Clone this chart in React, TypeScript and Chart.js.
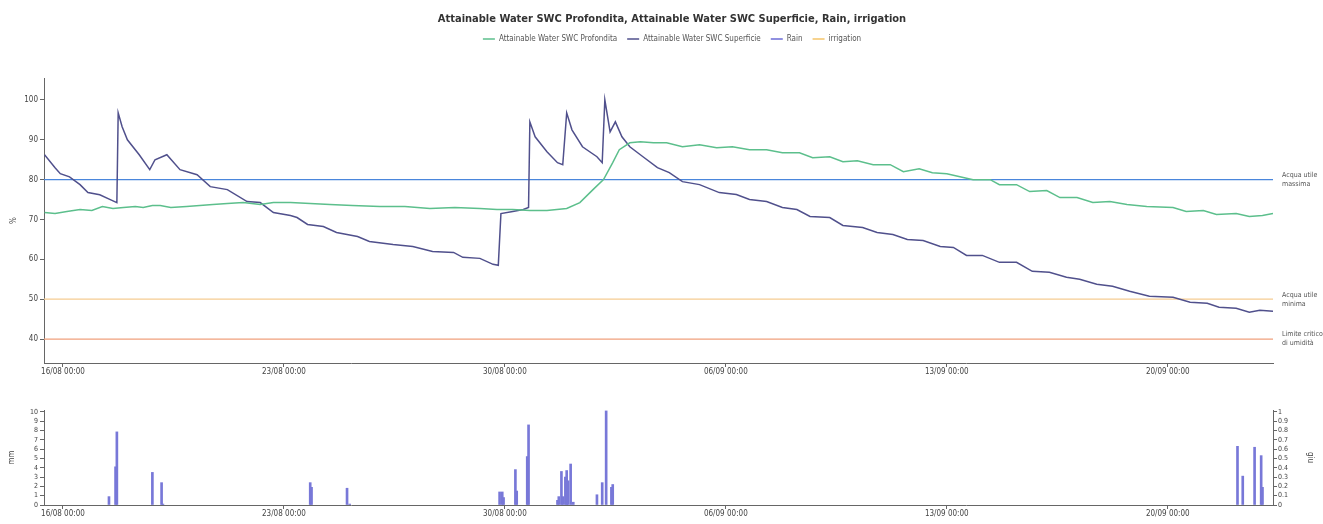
import React, { useEffect, useRef } from "react";
import { Chart, registerables } from "chart.js";
Chart.register(...registerables);

const FONT = '"Liberation Sans Narrow", "DejaVu Sans Condensed", "Liberation Sans", sans-serif';

const TITLE = "Attainable Water SWC Profondita, Attainable Water SWC Superficie, Rain, irrigation";
const seriesNames = ["Attainable Water SWC Profondita", "Attainable Water SWC Superficie", "Rain", "irrigation"];
const seriesColors = ["#5cbf8c", "#50508c", "#6b6bd6", "#f5c46a"];

// x values are hours since 16/08 00:00
const xMin = -14.4;
const xMax = 920;
const xTickValues = [0, 168, 336, 504, 672, 840];
const xTickLabels = ["16/08 00:00", "23/08 00:00", "30/08 00:00", "06/09 00:00", "13/09 00:00", "20/09 00:00"];

const yTickValues = [40, 50, 60, 70, 80, 90, 100];
const mmTickValues = [0, 1, 2, 3, 4, 5, 6, 7, 8, 9, 10];
const irrTickValues = [0, 0.1, 0.2, 0.3, 0.4, 0.5, 0.6, 0.7, 0.8, 0.9, 1];
const irrTickLabels = ["0", "0.1", "0.2", "0.3", "0.4", "0.5", "0.6", "0.7", "0.8", "0.9", "1"];

const thresholdValues = [80, 50, 40];
const thresholdColors = ["#4a86dc", "#f6cc92", "#f0a07c"];
const thresholdLabels = [["Acqua utile", "massima"], ["Acqua utile", "minima"], ["Limite critico", "di umidità"]];

const profSeries: [number, number][] = [
  [-14, 71.75], [-6, 71.5], [3, 72], [13, 72.5], [22, 72.25], [30, 73.25], [38, 72.75], [46, 73], [55, 73.25],
  [61, 73], [68, 73.5], [74, 73.5], [82, 73], [94, 73.25], [104, 73.5], [114, 73.75], [125, 74], [137, 74.25],
  [150, 73.75], [160, 74.25], [173, 74.25], [188, 74], [203, 73.75], [220, 73.5], [241, 73.25], [260, 73.25],
  [279, 72.75], [298, 73], [317, 72.75], [330, 72.5], [342, 72.5], [355, 72.25], [368, 72.25], [383, 72.75],
  [393, 74.25], [403, 77.5], [411, 80], [418, 84.25], [423, 87.5], [431, 89.25], [439, 89.5], [449, 89.25],
  [459, 89.25], [471, 88.25], [484, 88.75], [497, 88], [509, 88.25], [522, 87.5], [535, 87.5], [547, 86.75],
  [560, 86.75], [570, 85.5], [583, 85.75], [593, 84.5], [604, 84.75], [616, 83.75], [629, 83.75], [639, 82],
  [651, 82.75], [661, 81.75], [672, 81.5], [682, 80.75], [692, 80], [705, 80], [712, 78.75], [725, 78.75],
  [735, 77], [748, 77.25], [758, 75.5], [771, 75.5], [783, 74.25], [796, 74.5], [809, 73.75], [824, 73.25],
  [844, 73], [854, 72], [867, 72.25], [877, 71.25], [892, 71.5], [902, 70.75], [912, 71], [920, 71.5],
];

const supSeries: [number, number][] = [
  [-14, 86.25], [-6, 83], [-2, 81.5], [5, 80.7], [13, 78.75], [19, 76.75], [28, 76.2], [36, 75], [41, 74.25],
  [42, 96.75], [45, 93.25], [49, 90], [58, 86.25], [66, 82.5], [70, 85], [79, 86.25], [89, 82.5], [102, 81.25],
  [112, 78.25], [125, 77.5], [140, 74.5], [150, 74.25], [160, 71.75], [173, 71], [178, 70.5], [186, 68.75],
  [198, 68.25], [208, 66.75], [224, 65.75], [233, 64.5], [251, 63.75], [266, 63.25], [281, 62], [297, 61.75],
  [304, 60.5], [317, 60.25], [327, 58.75], [331, 58.5], [333, 71.5], [342, 72], [350, 72.5], [354, 73],
  [355, 94.5], [359, 90.75], [368, 87], [376, 84.25], [380, 83.75], [383, 96.75], [387, 92.5], [395, 88.25],
  [406, 85.75], [410, 84.25], [412, 100], [416, 92], [420, 94.5], [425, 90.75], [431, 88.25], [441, 85.75],
  [452, 83], [461, 81.75], [471, 79.5], [484, 78.75], [499, 76.75], [512, 76.25], [522, 75], [535, 74.5],
  [547, 73], [558, 72.5], [568, 70.75], [583, 70.5], [593, 68.5], [608, 68], [619, 66.75], [631, 66.25],
  [642, 65], [654, 64.75], [667, 63.25], [677, 63], [687, 61], [699, 61], [712, 59.25], [725, 59.25],
  [737, 57], [750, 56.75], [763, 55.5], [773, 55], [786, 53.75], [798, 53.25], [811, 52], [826, 50.75],
  [844, 50.5], [857, 49.25], [870, 49], [879, 48], [892, 47.75], [902, 46.75], [910, 47.25], [920, 47],
];

const rainSeries: [number, number][] = [
  [35, 0.9], [40, 4.1], [41, 7.85], [68, 3.5], [75, 2.4], [76, 0.1], [188, 2.4], [189, 1.9], [216, 1.8], [218, 0.1],
  [332, 1.4], [334, 1.4], [335, 0.8], [344, 3.8], [345, 1.5], [353, 5.2], [354, 8.6], [376, 0.5], [377, 0.9],
  [379, 3.6], [380, 0.9], [382, 3.0], [383, 3.7], [384, 2.6], [386, 4.4], [388, 0.3], [406, 1.1], [410, 2.4],
  [413, 10.1], [417, 1.9], [418, 2.2], [893, 6.3], [897, 3.1], [906, 6.2], [911, 5.3], [912, 1.9],
];
const irrigationSeries: [number, number][] = [];

const toPts = (s: [number, number][]) => s.map(([x, y]) => ({ x, y }));
const tickFont = { family: FONT, size: 8 };
const AXIS = "#666";

const thresholdPlugin = {
  id: "thresholdLabels",
  afterDraw(chart: any) {
    const { ctx, chartArea, scales } = chart;
    ctx.save();
    ctx.font = `7px ${FONT}`;
    ctx.fillStyle = "#555";
    ctx.textBaseline = "middle";
    ctx.textAlign = "left";
    thresholdValues.forEach((v, i) => {
      const y = scales.y.getPixelForValue(v);
      ctx.fillText(thresholdLabels[i][0], chartArea.right + 9, y - 4.5);
      ctx.fillText(thresholdLabels[i][1], chartArea.right + 9, y + 4.5);
    });
    ctx.restore();
  },
};

const xScale = (height: number) => ({
  type: "linear",
  min: xMin,
  max: xMax,
  offset: false,
  afterBuildTicks: (s: any) => { s.ticks = xTickValues.map((v) => ({ value: v })); },
  afterFit: (s: any) => { s.height = height; },
  ticks: {
    callback: (v: number) => xTickLabels[xTickValues.indexOf(v)] ?? "",
    font: tickFont, color: "#444", padding: 0, maxRotation: 0, autoSkip: false,
  },
  grid: { display: true, drawOnChartArea: false, drawTicks: true, tickLength: 4, color: AXIS, offset: false },
  border: { display: true, color: AXIS },
});

export default function App() {
  const topRef = useRef<HTMLCanvasElement>(null);
  const botRef = useRef<HTMLCanvasElement>(null);

  useEffect(() => {
    const topChart = new Chart(topRef.current!, {
      type: "line",
      data: {
        datasets: [
          { label: seriesNames[0], data: toPts(profSeries), borderColor: seriesColors[0], backgroundColor: seriesColors[0], borderWidth: 1.5, pointRadius: 0, order: 0 },
          { label: seriesNames[1], data: toPts(supSeries), borderColor: seriesColors[1], backgroundColor: seriesColors[1], borderWidth: 1.5, pointRadius: 0, order: 0 },
          { label: seriesNames[2], data: [], borderColor: seriesColors[2], backgroundColor: seriesColors[2], borderWidth: 1.5, pointRadius: 0, order: 0 },
          { label: seriesNames[3], data: [], borderColor: seriesColors[3], backgroundColor: seriesColors[3], borderWidth: 1.5, pointRadius: 0, order: 0 },
          ...thresholdValues.map((v, i) => ({
            label: thresholdLabels[i].join(" "),
            data: [{ x: xMin, y: v }, { x: xMax, y: v }],
            borderColor: thresholdColors[i], backgroundColor: thresholdColors[i], borderWidth: 1.3, pointRadius: 0, order: 1,
          })),
        ],
      } as any,
      options: {
        animation: false,
        responsive: false,
        events: [],
        layout: { padding: 0 },
        plugins: {
          title: {
            display: true, text: TITLE, color: "#333",
            font: { family: FONT, size: 11, weight: "bold", lineHeight: 1 },
            padding: { top: 14, bottom: 0 },
          },
          legend: {
            display: true, position: "top",
            labels: {
              usePointStyle: true, pointStyle: "line", pointStyleWidth: 12,
              color: "#555", font: { family: FONT, size: 8 }, padding: 10,
              filter: (item: any) => item.datasetIndex < 4,
            },
          },
          tooltip: { enabled: false },
        },
        scales: {
          x: xScale(17),
          xTop: {
            type: "linear", position: "top", display: true,
            grid: { display: false }, border: { display: false }, ticks: { display: false },
            afterFit: (s: any) => { s.height = 25; },
          },
          y: {
            type: "linear", position: "left", min: 34, max: 105.5,
            afterBuildTicks: (s: any) => { s.ticks = yTickValues.map((v) => ({ value: v })); },
            afterFit: (s: any) => { s.width = 44; },
            ticks: { font: tickFont, color: "#444", padding: 2, autoSkip: false },
            grid: { display: true, drawOnChartArea: false, drawTicks: true, tickLength: 4, color: AXIS },
            border: { display: true, color: AXIS },
            title: { display: true, text: "%", color: "#444", font: { family: FONT, size: 8 }, padding: { top: 9, bottom: 0 } },
          },
          yR: {
            type: "linear", position: "right", display: true,
            grid: { display: false }, border: { display: false }, ticks: { display: false },
            afterFit: (s: any) => { s.width = 71; },
          },
        },
      } as any,
      plugins: [thresholdPlugin],
    });

    const botChart = new Chart(botRef.current!, {
      type: "bar",
      data: {
        datasets: [
          { label: seriesNames[2], data: toPts(rainSeries), yAxisID: "y", backgroundColor: "#7878d8", borderWidth: 0, barThickness: 2, grouped: false },
          { label: seriesNames[3], data: toPts(irrigationSeries), yAxisID: "y1", backgroundColor: seriesColors[3], borderWidth: 0, barThickness: 2, grouped: false },
        ],
      } as any,
      options: {
        animation: false,
        responsive: false,
        events: [],
        layout: { padding: { top: 10 } },
        plugins: { legend: { display: false }, title: { display: false }, tooltip: { enabled: false } },
        scales: {
          x: xScale(19),
          y: {
            type: "linear", position: "left", min: 0, max: 10.2,
            afterBuildTicks: (s: any) => { s.ticks = mmTickValues.map((v) => ({ value: v })); },
            afterFit: (s: any) => { s.width = 44; },
            ticks: { font: { family: FONT, size: 7 }, color: "#444", padding: 2, autoSkip: false },
            grid: { display: true, drawOnChartArea: false, drawTicks: true, tickLength: 4, color: AXIS },
            border: { display: true, color: AXIS },
            title: { display: true, text: "mm", color: "#444", font: { family: FONT, size: 8 }, padding: { top: 7, bottom: 0 } },
          },
          y1: {
            type: "linear", position: "right", min: 0, max: 1.02,
            afterBuildTicks: (s: any) => { s.ticks = irrTickValues.map((v) => ({ value: v })); },
            afterFit: (s: any) => { s.width = 50; },
            ticks: {
              font: { family: FONT, size: 7 }, color: "#444", padding: 1, autoSkip: false,
              callback: (v: number) => irrTickLabels[irrTickValues.indexOf(v)] ?? "",
            },
            grid: { display: true, drawOnChartArea: false, drawTicks: true, tickLength: 4, color: AXIS },
            border: { display: true, color: AXIS },
            title: { display: true, text: "giu", color: "#444", font: { family: FONT, size: 8 }, padding: { top: 8, bottom: 0 } },
          },
        },
      } as any,
    });

    return () => { topChart.destroy(); botChart.destroy(); };
  }, []);

  return (
    <div style={{ position: "absolute", left: 0, top: 0, width: 1323, height: 524, overflow: "hidden", background: "#fff" }}>
      <canvas ref={topRef} width={1344} height={380} style={{ position: "absolute", left: 0, top: 0, width: 1344, height: 380 }} />
      <canvas ref={botRef} width={1323} height={124} style={{ position: "absolute", left: 0, top: 400, width: 1323, height: 124 }} />
    </div>
  );
}
